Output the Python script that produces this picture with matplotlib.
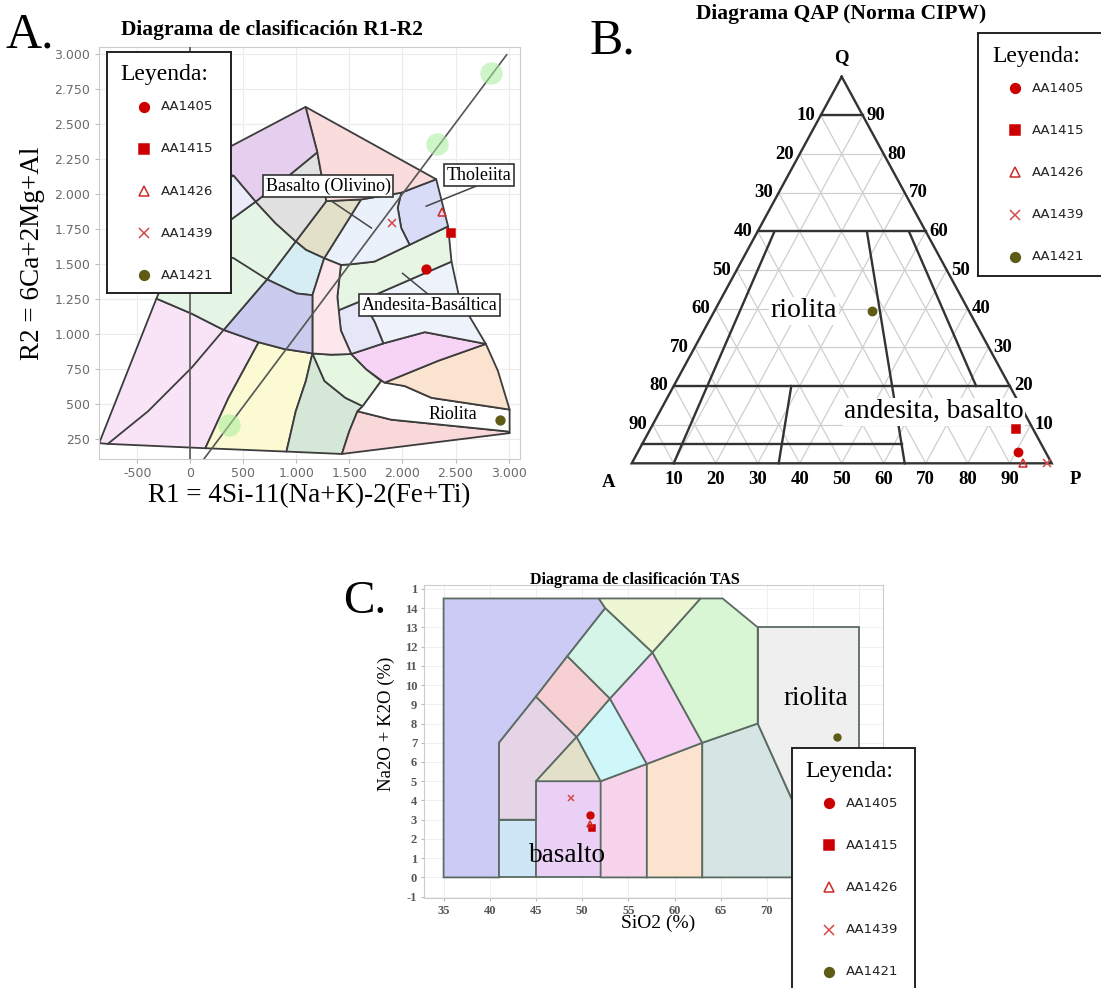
import numpy as np
import matplotlib
matplotlib.use('Agg')
import matplotlib.pyplot as plt
from matplotlib.patches import Polygon
from matplotlib.ticker import FuncFormatter

W, H = 1101, 988
SERIF = 'Liberation Serif'
SANS = 'DejaVu Sans'
EDGE = '#3c3c3c'

# ---- samples -------------------------------------------------------------
samples = ['AA1405', 'AA1415', 'AA1426', 'AA1439', 'AA1421']
markers = ['o', 's', '^', 'x', 'o']
mcolors = ['#cc0000', '#cc0000', '#cc2a2a', '#d64848', '#5e5c14']
mfilled = [True, True, False, False, True]
msizes = [7, 6.5, 7, 7, 7]

# R1-R2 (De la Roche)
r1 = [2224, 2457, 2372, 1900, 2915]
r2 = [1466, 1721, 1871, 1797, 388]
# QAP (norma CIPW), %
q_pct = [2.8, 9.0, 0.2, 0.0, 39.4]
a_pct = [6.6, 4.0, 6.8, 1.0, 23.2]
p_pct = [90.6, 87.0, 93.0, 99.0, 37.4]
# TAS
sio2 = [50.9, 51.1, 50.9, 48.8, 77.6]
alk = [3.24, 2.55, 2.77, 4.14, 7.31]

# ---- R1-R2 fields (approximate) -------------------------------------------
f_pink_ll = [(-860, 222), (-320, 1255), (13, 1147), (314, 1031), (644, 943), (360, 546), (141, 186), (-778, 217)]
f_yellow = [(644, 943), (883, 895), (1089, 871), (1151, 863), (1089, 666), (994, 450), (906, 162), (141, 186), (360, 546)]
f_dkgreen = [(1151, 863), (1265, 666), (1462, 546), (1625, 486), (1576, 450), (1498, 306), (1429, 145), (906, 162), (994, 450), (1089, 666)]
f_ltgreen = [(1151, 863), (1331, 854), (1517, 859), (1658, 750), (1799, 666), (1625, 486), (1462, 546), (1265, 666)]
f_pink_br = [(1576, 450), (1893, 390), (2990, 306), (3010, 294), (1429, 145), (1498, 306)]
f_riolita = [(1799, 666), (2021, 630), (2273, 546), (3010, 462), (3010, 294), (2990, 306), (1893, 390), (1576, 450), (1625, 486)]
f_peach = [(1831, 654), (2335, 810), (2786, 931), (2900, 738), (3010, 462), (2273, 546), (2021, 630)]
f_magenta = [(1517, 859), (1821, 935), (2211, 1015), (2786, 931), (2335, 810), (1831, 654), (1658, 750)]
f_lav2 = [(1396, 1171), (1625, 1243), (1740, 1087), (1821, 935), (1517, 859), (1419, 1027)]
f_andbas = [(1625, 1243), (2462, 1519), (2541, 1243), (2786, 931), (2211, 1015), (1821, 935), (1740, 1087)]
f_green2 = [(1419, 1495), (1514, 1500), (1736, 1519), (2067, 1639), (2430, 1771), (2462, 1519), (1625, 1243), (1396, 1171), (1386, 1267)]
f_thol = [(1988, 2011), (2318, 2107), (2430, 1771), (2067, 1639), (1988, 1759), (1955, 1903)]
f_ltblue = [(1609, 1963), (1988, 2011), (1955, 1903), (1988, 1759), (2067, 1639), (1736, 1519), (1514, 1500), (1419, 1495), (1262, 1543)]
f_tan = [(994, 1663), (1282, 1951), (1609, 1963), (1262, 1543), (1089, 1603)]
f_cyan = [(723, 1392), (994, 1663), (1089, 1603), (1262, 1543), (1151, 1279), (1004, 1291)]
f_ltpink = [(1262, 1543), (1419, 1495), (1386, 1267), (1419, 1027), (1517, 859), (1331, 854), (1151, 863), (1151, 1279)]
f_blue = [(314, 1031), (723, 1392), (1004, 1291), (1151, 1279), (1151, 863), (1089, 871), (883, 895), (644, 943)]
f_green = [(-320, 1255), (26, 1867), (383, 1819), (615, 1947), (801, 1795), (994, 1663), (723, 1392), (314, 1031), (13, 1147)]
f_gray = [(615, 1947), (906, 2119), (1197, 2300), (1282, 1951), (994, 1663), (801, 1795)]
f_pink_top = [(1086, 2624), (2318, 2107), (1988, 2011), (1609, 1963), (1282, 1951), (1197, 2300), (1135, 2480)]
f_purple = [(200, 2270), (1086, 2624), (1135, 2480), (1197, 2300), (906, 2119), (615, 1947), (409, 2131), (200, 2200)]
f_lav = [(409, 2131), (615, 1947), (383, 1819), (26, 1867), (180, 2100)]

r1r2_fields = [
    (f_pink_ll, '#f9e3f7'), (f_yellow, '#fbfad2'), (f_dkgreen, '#d5e8d8'),
    (f_ltgreen, '#e5f7e1'), (f_pink_br, '#f9d8da'), (f_riolita, '#ffffff'),
    (f_peach, '#fbe4cf'), (f_magenta, '#f7d4f5'), (f_lav2, '#e6e6f9'),
    (f_andbas, '#eef3fb'), (f_green2, '#e7f6e4'), (f_thol, '#d9dcf6'),
    (f_ltblue, '#eaf1fb'), (f_tan, '#e3e0ca'), (f_cyan, '#d6edf3'),
    (f_ltpink, '#fbe7ec'), (f_blue, '#cbcbef'), (f_green, '#e5f5e5'),
    (f_gray, '#e1e1e1'), (f_pink_top, '#fadcdc'), (f_purple, '#e6cfee'),
    (f_lav, '#ebebfa'),
]
line_d1 = [(-778, 217), (-399, 450), (13, 762), (314, 1031)]
line_c2 = [(150, 1600), (409, 1543), (723, 1392)]
line_diag = [(121, 102), (2982, 2996)]
green_spots_r1 = [366, 2328, 2835]
green_spots_r2 = [354, 2360, 2864]
leaders = [[(1331, 1951), (1707, 1759)], [(2698, 2059), (2224, 1915)], [(2001, 1435), (2300, 1250)]]

# ---- QAP field boundaries (Q, A, P) ---------------------------------------
qap_segments = [
    [(90, 10, 0), (90, 0, 10)],
    [(60, 40, 0), (60, 0, 40)],
    [(20, 80, 0), (20, 0, 80)],
    [(5, 95, 0), (5, 33.25, 61.75)],
    [(60, 36, 4), (0, 90, 10)],
    [(20, 52, 28), (0, 65, 35)],
    [(60, 14, 26), (0, 35, 65)],
    [(60, 4, 36), (20, 8, 72)],
]
qap_ticks = [10, 20, 30, 40, 50, 60, 70, 80, 90]

# ---- TAS fields (Le Bas et al.) -------------------------------------------
tas_fields = [
    ([(35, 0), (41, 0), (41, 7), (45, 9.4), (48.4, 11.5), (52.5, 14), (51.8, 14.5), (35, 14.5)], '#cbcbf6'),
    ([(41, 0), (41, 3), (45, 3), (45, 0)], '#cfe6f7'),
    ([(45, 0), (45, 5), (52, 5), (52, 0)], '#e9d0f4'),
    ([(52, 0), (52, 5), (57, 5.9), (57, 0)], '#f8d4ec'),
    ([(57, 0), (57, 5.9), (63, 7), (63, 0)], '#fbe3cf'),
    ([(63, 0), (63, 7), (69, 8), (76.5, 0)], '#d4e5e3'),
    ([(69, 8), (69, 13), (80, 13), (80, 0), (76.5, 0)], '#efefef'),
    ([(41, 3), (41, 7), (45, 9.4), (49.4, 7.3), (45, 5), (45, 3)], '#e5d4e6'),
    ([(45, 5), (49.4, 7.3), (52, 5)], '#e3e0c9'),
    ([(49.4, 7.3), (53, 9.3), (57, 5.9), (52, 5)], '#cff6f8'),
    ([(53, 9.3), (57.6, 11.7), (63, 7), (57, 5.9)], '#f7d0f5'),
    ([(57.6, 11.7), (62.8, 14.5), (65.2, 14.5), (69, 13), (69, 8), (63, 7)], '#d8f5d4'),
    ([(45, 9.4), (48.4, 11.5), (53, 9.3), (49.4, 7.3)], '#f6d0d3'),
    ([(48.4, 11.5), (52.5, 14), (57.6, 11.7), (53, 9.3)], '#d4f5e7'),
    ([(51.8, 14.5), (52.5, 14), (57.6, 11.7), (62.8, 14.5)], '#edf7d4'),
]

fig = plt.figure(figsize=(W / 100, H / 100), dpi=100)
fig.patch.set_facecolor('white')


def px_axes(l, t, r, b):
    return fig.add_axes([l / W, 1 - b / H, (r - l) / W, (b - t) / H])


def ftext(x, y, s, **kw):
    fig.text(x / W, 1 - y / H, s, **kw)


def draw_samples(ax, xs, ys, scale=1.0, z=6):
    for x, y, m, c, f, s in zip(xs, ys, markers, mcolors, mfilled, msizes):
        ax.plot([x], [y], marker=m, ms=s * scale, mfc=c if f else 'none', mec=c,
                mew=1.1, ls='none', zorder=z)


def legend_box(l, t, r, b):
    lax = px_axes(l, t, r, b)
    lax.set_xlim(0, r - l)
    lax.set_ylim(b - t, 0)
    lax.set_xticks([])
    lax.set_yticks([])
    lax.set_facecolor('white')
    for sp in lax.spines.values():
        sp.set_color('#222222')
        sp.set_linewidth(1.4)
    lax.text(58, 23, 'Leyenda:', family=SERIF, fontsize=17, ha='center', va='center')
    rows = 55 + 42.2 * np.arange(len(samples))
    draw_samples(lax, [37] * len(samples), rows)
    for y, lab in zip(rows, samples):
        lax.text(54, y, lab, family=SANS, fontsize=9.5, ha='left', va='center', color='#222222')


def thousands(v, pos):
    return f'{int(round(v)):,}'.replace(',', '.')


# ============================ A. R1-R2 ======================================
axA = px_axes(98.5, 46.7, 520, 459)
axA.set_xlim(-866, 3108)
axA.set_ylim(109, 3054)
axA.set_xticks(range(-500, 3001, 500))
axA.set_yticks(range(250, 3001, 250))
axA.xaxis.set_major_formatter(FuncFormatter(thousands))
axA.yaxis.set_major_formatter(FuncFormatter(thousands))
axA.tick_params(length=3, color='#bbbbbb', labelsize=9, labelcolor='#6a6a6a', pad=3)
for lab in axA.get_xticklabels() + axA.get_yticklabels():
    lab.set_family(SANS)
axA.grid(True, color='#ececec', lw=0.8)
axA.set_axisbelow(True)
for sp in axA.spines.values():
    sp.set_color('#cccccc')

for poly, col in r1r2_fields:
    axA.add_patch(Polygon(poly, closed=True, fc=col, ec=EDGE, lw=1.3, joinstyle='round', zorder=2))
for ln in [line_d1, line_c2]:
    xs, ys = zip(*ln)
    axA.plot(xs, ys, color=EDGE, lw=1.3, zorder=3)
axA.axvline(0, color='#555555', lw=1.2, zorder=3)
xs, ys = zip(*line_diag)
axA.plot(xs, ys, color='#555555', lw=1.2, zorder=3)
axA.scatter(green_spots_r1, green_spots_r2, s=260, color='#a6ee9c', alpha=0.55, lw=0, zorder=3.5)
for ln in leaders:
    xs, ys = zip(*ln)
    axA.plot(xs, ys, color='#444444', lw=1.1, zorder=4)
draw_samples(axA, r1, r2, scale=0.9)
box = dict(boxstyle='square,pad=0.15', fc='white', ec='#333333', lw=1.2)
axA.text(1298, 2059, 'Basalto (Olivino)', family=SERIF, fontsize=13, ha='center', va='center', bbox=box, zorder=5)
axA.text(2721, 2136, 'Tholeiita', family=SERIF, fontsize=13, ha='center', va='center', bbox=box, zorder=5)
axA.text(2253, 1207, 'Andesita-Basáltica', family=SERIF, fontsize=13, ha='center', va='center', bbox=box, zorder=5)
axA.text(2475, 426, 'Riolita', family=SERIF, fontsize=13, ha='center', va='center', zorder=5)
axA.set_ylabel('R2 = 6Ca+2Mg+Al', family=SERIF, fontsize=19.5, va='center')
axA.yaxis.set_label_coords(-0.157, 0.5)
axA.set_xlabel('R1 = 4Si-11(Na+K)-2(Fe+Ti)', family=SERIF, fontsize=19.5, va='center')
axA.xaxis.set_label_coords(0.5, -0.09)
legend_box(106.5, 51.7, 230.7, 293.3)
ftext(272, 30, 'Diagrama de clasificación R1-R2', family=SERIF, weight='bold', fontsize=15.5, ha='center', va='center')
ftext(6, 47, 'A.', family=SERIF, fontsize=36, ha='left', va='baseline')


# ============================ B. QAP ========================================
def tern(q, a, p):
    q, a, p = (np.asarray(v, dtype=float) for v in (q, a, p))
    s = q + a + p
    return (p + q / 2) / s, q / s


axB = px_axes(590, 0, 1101, 530)
axB.set_xlim(-0.0993, 1.1174)
axB.set_ylim(-0.1725, 1.1984)
axB.axis('off')
for t in qap_ticks:
    for seg in [[(t, 100 - t, 0), (t, 0, 100 - t)],
                [(0, 100 - t, t), (100 - t, 0, t)],
                [(0, t, 100 - t), (100 - t, t, 0)]]:
        x, y = tern(*zip(*seg))
        axB.plot(x, y, color='#cfcfcf', lw=0.9, zorder=1)
x, y = tern([100, 0, 0, 100], [0, 100, 0, 0], [0, 0, 100, 0])
axB.plot(x, y, color='#333333', lw=1.7, zorder=3, solid_joinstyle='miter')
for seg in qap_segments:
    x, y = tern(*zip(*seg))
    axB.plot(x, y, color='#333333', lw=1.7, zorder=3)
tk = dict(family=SERIF, weight='bold', fontsize=13.5, textcoords='offset points')
for t in qap_ticks:
    x, y = tern(100 - t, t, 0)
    axB.annotate(str(t), (x, y), xytext=(-4, 0), ha='right', va='center', **tk)
    x, y = tern(t, 0, 100 - t)
    axB.annotate(str(t), (x, y), xytext=(3, 0), ha='left', va='center', **tk)
    x, y = tern(0, 100 - t, t)
    axB.annotate(str(t), (x, y), xytext=(0, -12), ha='center', va='center', **tk)
for lab, qap, off in [('Q', (100, 0, 0), (0, 14)), ('A', (0, 100, 0), (-17, -13.5)), ('P', (0, 0, 100), (17, -12))]:
    x, y = tern(*qap)
    axB.annotate(lab, (x, y), xytext=off, ha='center', va='center', **tk)
x, y = tern(39.4, 39.3, 21.3)
axB.text(x, y, 'riolita', family=SERIF, fontsize=20, ha='center', va='center', zorder=4,
         bbox=dict(boxstyle='square,pad=0.05', fc='white', ec='none'))
x, y = tern(13.3, 21.4, 65.3)
axB.text(x, y, 'andesita, basalto', family=SERIF, fontsize=19.5, ha='center', va='center', zorder=4,
         bbox=dict(boxstyle='square,pad=0.05', fc='white', ec='none'))
bx, by = tern(q_pct, a_pct, p_pct)
draw_samples(axB, bx, by, scale=0.85)
legend_box(978, 33, 1112, 276)
ftext(840.7, 14, 'Diagrama QAP (Norma CIPW)', family=SERIF, weight='bold', fontsize=15.5, ha='center', va='center')
ftext(590, 53, 'B.', family=SERIF, fontsize=36, ha='left', va='baseline')

# ============================ C. TAS ========================================
axC = px_axes(424, 585, 883, 898)
axC.set_xlim(32.88, 82.56)
axC.set_ylim(-1.07, 15.2)
axC.set_xticks(range(35, 81, 5))
axC.set_yticks(range(-1, 16))
axC.set_yticklabels([str(v) for v in range(-1, 15)] + ['1'])
axC.tick_params(length=2, color='#bbbbbb', labelsize=9, labelcolor='#555555', pad=3)
for lab in axC.get_xticklabels() + axC.get_yticklabels():
    lab.set_family(SERIF)
    lab.set_weight('bold')
axC.grid(True, color='#efefef', lw=0.7)
axC.set_axisbelow(True)
for sp in axC.spines.values():
    sp.set_color('#cccccc')
for poly, col in tas_fields:
    axC.add_patch(Polygon(poly, closed=True, fc=col, ec='#5b6b62', lw=1.3, zorder=2))
draw_samples(axC, sio2, alk, scale=0.7)
axC.text(75.3, 9.3, 'riolita', family=SERIF, fontsize=19.5, ha='center', va='center', zorder=5)
axC.text(48.4, 1.16, 'basalto', family=SERIF, fontsize=19.5, ha='center', va='center', zorder=5)
axC.set_ylabel('Na2O + K2O (%)', family=SERIF, fontsize=13.5, va='center')
axC.yaxis.set_label_coords(-0.083, 0.558)
axC.set_xlabel('SiO2 (%)', family=SERIF, fontsize=14, va='center')
axC.xaxis.set_label_coords(0.511, -0.081)
legend_box(791.7, 748, 915, 996)
ftext(635, 580, 'Diagrama de clasificación TAS', family=SERIF, weight='bold', fontsize=11.5, ha='center', va='center')
ftext(343.5, 613, 'C.', family=SERIF, fontsize=34, ha='left', va='baseline')

fig.savefig('out.png', dpi=100)
